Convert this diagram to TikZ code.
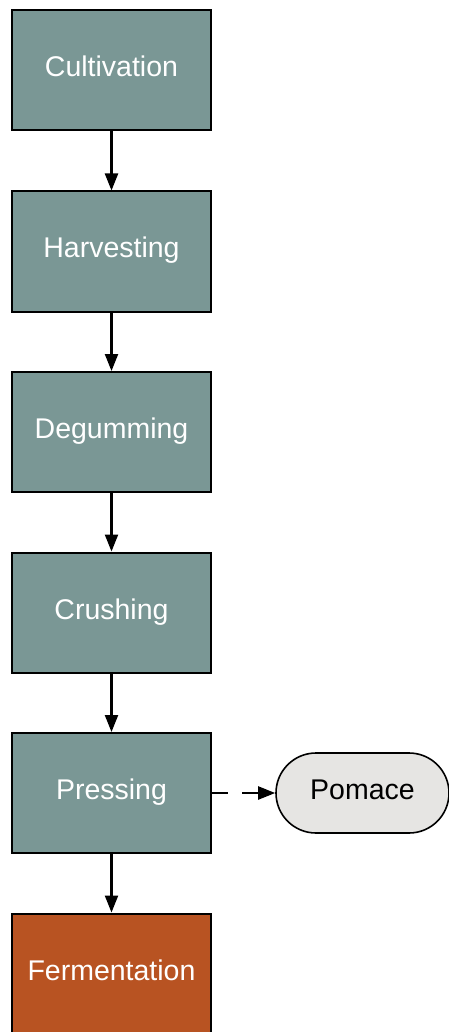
\documentclass[tikz,border=0pt]{standalone}
\usepackage{fontspec}
\setmainfont{Liberation Sans}
\usetikzlibrary{arrows.meta,shapes.misc}
\definecolor{stepfill}{HTML}{7A9795}
\definecolor{endfill}{HTML}{B85322}
\definecolor{sidefill}{HTML}{E6E5E3}
\tikzset{
  label font/.style={font=\fontsize{28.5}{32}\selectfont, text height=21pt, text depth=8pt},
  stage/.style={draw=black, line width=2pt, fill=stepfill, minimum width=199pt,
    minimum height=120pt, inner sep=0pt, text=white, label font},
  finalstage/.style={stage, fill=endfill},
  byproduct/.style={draw=black, line width=1.6pt, fill=sidefill, rounded rectangle,
    minimum width=173pt, minimum height=80pt, inner sep=0pt, text=black, label font},
  flow/.style={line width=2.2pt, -{Triangle[length=17pt,width=13pt]}},
  sideflow/.style={flow, dash pattern=on 16pt off 14pt}
}
\begin{document}
\begin{tikzpicture}[x=1pt,y=-1pt]
  \useasboundingbox (0,0) rectangle (449,1032);
  \node[stage] (cult) at (111.5,70.5) {Cultivation};
  \node[stage] (harv) at (111.5,251.5) {Harvesting};
  \node[stage] (degum) at (111.5,432) {Degumming};
  \node[stage] (crush) at (111.5,612.5) {Crushing};
  \node[stage] (press) at (111.5,793) {Pressing};
  \node[finalstage] (ferm) at (111.5,973.5) {Fermentation};
  \node[byproduct] (pomace) at (362.5,793) {Pomace};
  \draw[flow] (cult) -- (harv);
  \draw[flow] (harv) -- (degum);
  \draw[flow] (degum) -- (crush);
  \draw[flow] (crush) -- (press);
  \draw[flow] (press) -- (ferm);
  \draw[sideflow] (press) -- (pomace);
\end{tikzpicture}
\end{document}
